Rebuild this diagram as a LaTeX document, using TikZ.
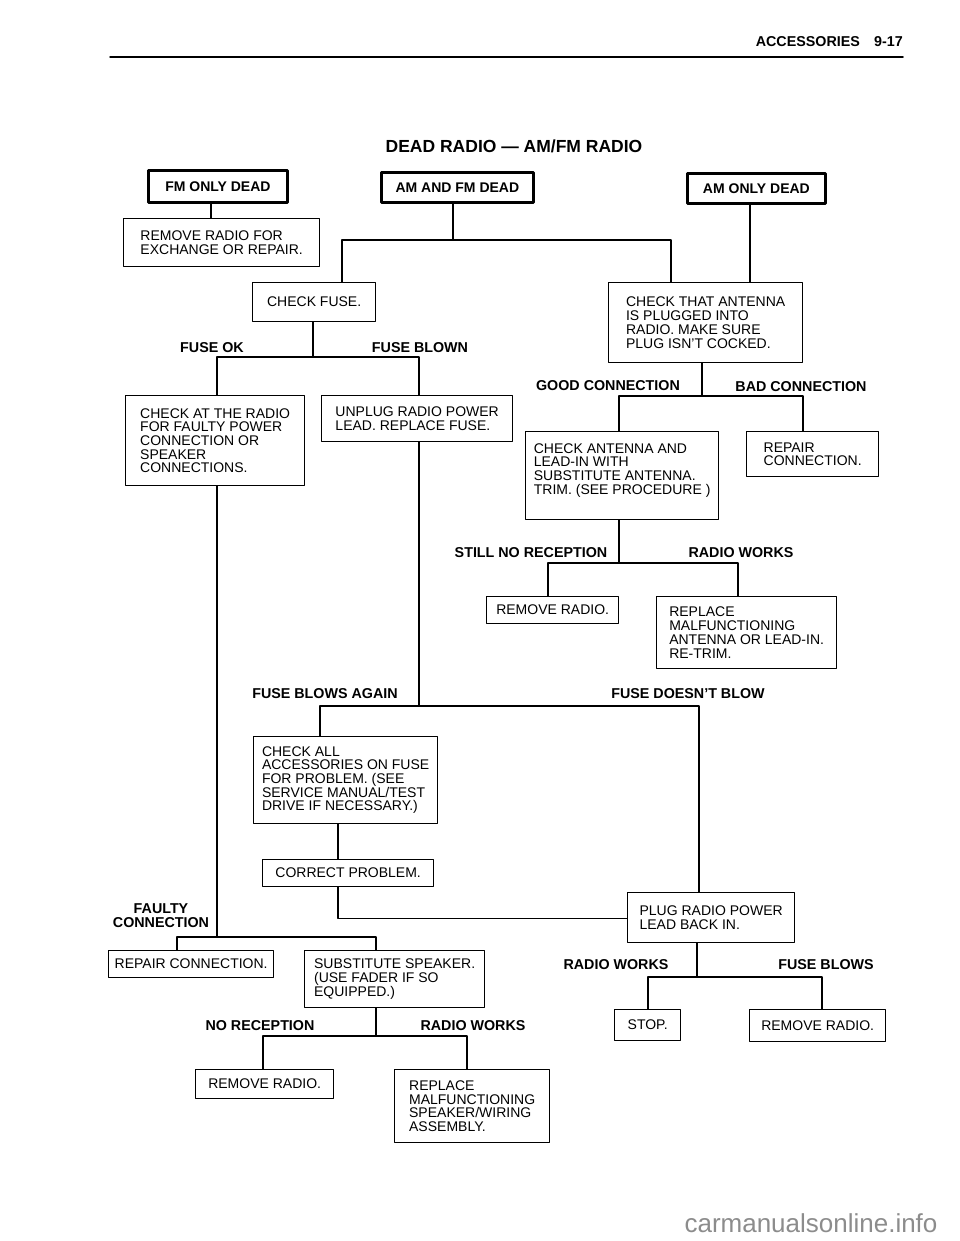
\documentclass[tikz,border=0pt]{standalone}
\usepackage{fontspec}
\setmainfont{Liberation Sans}
\newcommand\boxfont{\fontsize{14pt}{13.7pt}\selectfont}
\newcommand\lblfont{\bfseries\fontsize{14.3pt}{14pt}\selectfont}
\begin{document}
\begin{tikzpicture}
[x=1pt, y=-1pt, line join=round, line cap=round,
 box/.style={draw, line width=1.3pt, align=left, inner sep=0pt, anchor=north west, font=\boxfont},
 head/.style={box, line width=2.8pt, align=center, font=\bfseries\boxfont},
 lbl/.style={inner sep=0pt, anchor=base, font=\lblfont},
 link/.style={line width=1.3pt}]
\useasboundingbox (0,0) rectangle (960,1241);
% page header
\node[lbl, anchor=base east] (page) at (903,47) {ACCESSORIES\quad 9-17};
\draw[line width=1.5pt] (110,57) -- (page.east |- 0,57);
\node[lbl, font=\bfseries\fontsize{17.5pt}{20pt}\selectfont] (title) at (514,152.5) {DEAD RADIO --- AM/FM RADIO};
% boxes
\node[head, minimum width=139pt, minimum height=32pt] (fmonly) at (147,169) {FM ONLY DEAD};
\node[head, minimum width=152pt, minimum height=30pt] (amfm) at (380,171) {AM AND FM DEAD};
\node[head, minimum width=138pt, minimum height=30pt] (amonly) at (686,172) {AM ONLY DEAD};
\node[box, minimum width=196pt, minimum height=48pt] (remfor) at (123,218) {REMOVE RADIO FOR\\EXCHANGE OR REPAIR.};
\node[box, minimum width=123pt, minimum height=39pt] (fuse) at (252,282) {CHECK FUSE.};
\node[box, minimum width=194pt, minimum height=80pt] (plugged) at (608,282) {CHECK THAT ANTENNA\\IS PLUGGED INTO\\RADIO. MAKE SURE\\PLUG ISN'T COCKED.};
\node[box, minimum width=179pt, minimum height=90pt] (atradio) at (125,395) {CHECK AT THE RADIO\\FOR FAULTY POWER\\CONNECTION OR\\SPEAKER\\CONNECTIONS.};
\node[box, minimum width=191pt, minimum height=46pt] (unplug) at (321,395) {UNPLUG RADIO POWER\\LEAD. REPLACE FUSE.};
\node[box, minimum width=193pt, minimum height=88pt] (subant) at (525,431) {CHECK ANTENNA AND\\LEAD-IN WITH\\SUBSTITUTE ANTENNA.\\TRIM. (SEE PROCEDURE )\\\mbox{}};
\node[box, minimum width=132pt, minimum height=45pt] (repant) at (746,431) {REPAIR\\CONNECTION.};
\node[box, minimum width=132pt, minimum height=27pt] (remove1) at (486,596) {REMOVE RADIO.};
\node[box, minimum width=180pt, minimum height=72pt] (newant) at (656,596) {REPLACE\\MALFUNCTIONING\\ANTENNA OR LEAD-IN.\\RE-TRIM.};
\node[box, minimum width=184pt, minimum height=87pt] (checkall) at (253,736) {CHECK ALL\\ACCESSORIES ON FUSE\\FOR PROBLEM. (SEE\\SERVICE MANUAL/TEST\\DRIVE IF NECESSARY.)};
\node[box, minimum width=171pt, minimum height=27pt] (correct) at (262,859) {CORRECT PROBLEM.};
\node[box, minimum width=167pt, minimum height=50pt] (plugin) at (627,892) {PLUG RADIO POWER\\LEAD BACK IN.};
\node[box, minimum width=165pt, minimum height=27pt] (repcon) at (108,950) {REPAIR CONNECTION.};
\node[box, minimum width=180pt, minimum height=57pt] (subspk) at (304,950) {SUBSTITUTE SPEAKER.\\(USE FADER IF SO\\EQUIPPED.)};
\node[box, minimum width=66pt, minimum height=31pt] (stop) at (614,1009) {STOP.};
\node[box, minimum width=136pt, minimum height=32pt] (remove3) at (749,1009) {REMOVE RADIO.};
\node[box, minimum width=138pt, minimum height=29pt] (remove2) at (195,1069) {REMOVE RADIO.};
\node[box, minimum width=155pt, minimum height=73pt] (newspk) at (394,1069) {REPLACE\\MALFUNCTIONING\\SPEAKER/WIRING\\ASSEMBLY.};
% branch labels
\foreach \n/\x/\y/\t in {fuseok/212/352/FUSE OK, blown/420/352/FUSE BLOWN,
  good/608/390/GOOD CONNECTION, bad/801/391/BAD CONNECTION,
  still/531/557/STILL NO RECEPTION, works1/741/557/RADIO WORKS,
  again/325/698/FUSE BLOWS AGAIN, nblow/688/698/FUSE DOESN'T BLOW,
  works2/616/969/RADIO WORKS, blows/826/969/FUSE BLOWS,
  norec/260/1030/NO RECEPTION, works3/473/1030/RADIO WORKS}
\node[lbl] (\n) at (\x,\y) {\t};
\node[lbl, anchor=center, align=center] (faulty) at (161,916) {FAULTY\\CONNECTION};
% junctions on the bars
\coordinate (j1) at (453,240);
\coordinate (j2) at (313,357);
\coordinate (j3) at (702,396);
\coordinate (j4) at (619,563);
\coordinate (j5) at (419,706);
\coordinate (j6) at (217,937);
\coordinate (j7) at (376,1036);
\coordinate (j8) at (697,977);
% connectors
\draw[link] ([xshift=64pt]fmonly.south west) -- ([xshift=88pt]remfor.north west);
\draw[link] (amfm.south -| j1) -- (j1);
\draw[link] ([xshift=90pt]fuse.north west) |- (j1) -| ([xshift=63pt]plugged.north west);
\draw[link] ([xshift=64pt]amonly.south west) -- ([xshift=142pt]plugged.north west);
\draw[link] (fuse.south -| j2) -- (j2);
\draw[link] ([xshift=92pt]atradio.north west) |- (j2) -| ([xshift=98pt]unplug.north west);
\draw[link] (plugged.south -| j3) -- (j3);
\draw[link] ([xshift=94pt]subant.north west) |- (j3) -| ([xshift=57pt]repant.north west);
\draw[link] (subant.south -| j4) -- (j4);
\draw[link] ([xshift=62pt]remove1.north west) |- (j4) -| ([xshift=82pt]newant.north west);
\draw[link] (unplug.south -| j5) -- (j5);
\draw[link] ([xshift=67pt]checkall.north west) |- (j5) -| ([xshift=72pt]plugin.north west);
\draw[link] ([xshift=85pt]checkall.south west) -- ([xshift=76pt]correct.north west);
\draw[link] ([xshift=76pt]correct.south west) |- ([yshift=-1pt]plugin.west);
\draw[link] (atradio.south -| j6) -- (j6);
\draw[link] ([xshift=69pt]repcon.north west) |- (j6) -| ([xshift=72pt]subspk.north west);
\draw[link] (subspk.south -| j7) -- (j7);
\draw[link] ([xshift=68pt]remove2.north west) |- (j7) -| ([xshift=73pt]newspk.north west);
\draw[link] (plugin.south -| j8) -- (j8);
\draw[link] ([xshift=34pt]stop.north west) |- (j8) -| ([xshift=73pt]remove3.north west);
% watermark
\node[font=\fontsize{26pt}{30pt}\selectfont, text=black!45, inner sep=0pt] (wm) at (811,1223) {carmanualsonline.info};
\end{tikzpicture}
\end{document}
